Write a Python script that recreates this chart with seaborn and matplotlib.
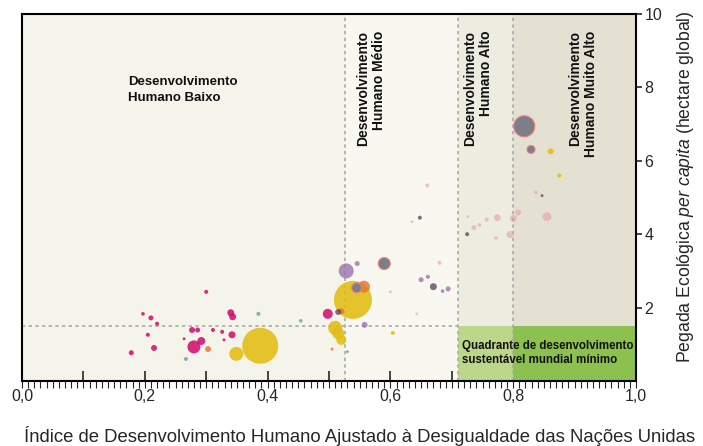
"""
Pegada Ecológica per capita versus IDH ajustado à desigualdade
"""

import numpy as np
import pandas as pd
import seaborn as sns
import matplotlib.pyplot as plt

# valores (IDH-D, pegada em hectare global, população em milhões)
idh = [0.300, 0.197, 0.210, 0.220, 0.205, 0.215, 0.178, 0.277, 0.286, 0.280,
       0.292, 0.264, 0.340, 0.343, 0.326, 0.342, 0.329, 0.311, 0.498,
       0.388, 0.349, 0.539, 0.510, 0.520, 0.515, 0.604, 0.861, 0.875,
       0.303, 0.557, 0.505, 0.520,
       0.528, 0.546, 0.558, 0.650, 0.661, 0.694, 0.685,
       0.545, 0.590, 0.818, 0.829,
       0.736, 0.726, 0.757, 0.774, 0.795, 0.800, 0.808, 0.855, 0.837,
       0.660, 0.635, 0.680, 0.600, 0.643, 0.772, 0.745,
       0.267, 0.385, 0.454, 0.530,
       0.725, 0.847, 0.648, 0.515, 0.670]
pegada = [2.43, 1.83, 1.72, 1.56, 1.26, 0.90, 0.77, 1.39, 1.39, 0.93,
          1.09, 1.15, 1.86, 1.75, 1.34, 1.26, 1.12, 1.39, 1.83,
          0.96, 0.74, 2.21, 1.45, 1.12, 1.30, 1.31, 6.26, 5.60,
          0.87, 2.57, 0.87, 1.90,
          3.00, 3.20, 1.53, 2.76, 2.84, 2.51, 2.45,
          2.54, 3.20, 6.94, 6.31,
          4.18, 4.48, 4.40, 4.45, 3.99, 4.43, 4.59, 4.48, 5.14,
          5.33, 4.34, 3.22, 2.43, 1.83, 3.90, 4.25,
          0.60, 1.83, 1.64, 0.80,
          4.00, 5.05, 4.45, 1.88, 2.57]
populacao = [15, 12, 23, 15, 15, 33, 23, 33, 23, 156,
             59, 8, 45, 45, 15, 45, 8, 15, 92,
             1200, 181, 1336, 181, 92, 133, 15, 33, 15,
             33, 133, 8, 33,
             208, 23, 33, 23, 15, 23, 12,
             92, 133, 408, 59,
             23, 8, 15, 45, 45, 45, 33, 75, 12,
             15, 8, 15, 8, 8, 12, 12,
             15, 15, 12, 8,
             15, 8, 15, 33, 45]
regiao = (["África"] * 19 + ["Ásia-Pacífico"] * 9 + ["Oriente Médio"] * 4
          + ["América Latina"] * 7 + ["América do Norte"] * 4
          + ["Europa"] * 16 + ["Outros"] * 4 + ["Escuros"] * 5)

limites_idh = [0.526, 0.71, 0.80]
biocapacidade = 1.5

cores = {
    "Europa": "#e39aa2",
    "Outros": "#6f9ea3",
    "Ásia-Pacífico": "#e2bd12",
    "África": "#d1096e",
    "América Latina": "#9a73ac",
    "Oriente Médio": "#e7702c",
    "América do Norte": "#7c7e88",
    "Escuros": "#5b3f57",
}
bordas = {
    "Europa": "none",
    "Outros": "none",
    "Ásia-Pacífico": "none",
    "África": "none",
    "América Latina": "none",
    "Oriente Médio": "none",
    "América do Norte": "#f07c84",
    "Escuros": "none",
}
opacidade = {
    "Europa": 0.55,
    "Outros": 0.8,
    "Ásia-Pacífico": 0.88,
    "África": 0.85,
    "América Latina": 0.8,
    "Oriente Médio": 0.8,
    "América do Norte": 1.0,
    "Escuros": 0.75,
}

df = pd.DataFrame({"idh": idh, "pegada": pegada,
                   "populacao": populacao, "regiao": regiao})

sns.set_style("white")
plt.rcParams["font.family"] = ["Liberation Sans", "DejaVu Sans"]
plt.rcParams["mathtext.fontset"] = "custom"
plt.rcParams["mathtext.rm"] = "Liberation Sans"
plt.rcParams["mathtext.it"] = "Liberation Sans:italic"

fig = plt.figure(figsize=(7.03, 4.46), dpi=100)
ax = fig.add_axes([22 / 703, 1 - 381 / 446, 614 / 703, 367 / 446])

# faixas de desenvolvimento humano
ax.axvspan(0, limites_idh[0], color="#f4f4ea", zorder=0, lw=0)
ax.axvspan(limites_idh[0], limites_idh[1], color="#f8f8f1", zorder=0, lw=0)
ax.axvspan(limites_idh[1], limites_idh[2], color="#ecece0", zorder=0, lw=0)
ax.axvspan(limites_idh[2], 1, color="#e5e1d2", zorder=0, lw=0)
ax.axvspan(limites_idh[1], limites_idh[2], ymax=biocapacidade / 10,
           color="#bcd68a", zorder=1, lw=0)
ax.axvspan(limites_idh[2], 1, ymax=biocapacidade / 10,
           color="#8cc04f", zorder=1, lw=0)

for lim in limites_idh:
    ax.axvline(lim, color="#a9aba4", lw=1.2, ls=(0, (2, 2)), zorder=2)
ax.axhline(biocapacidade, xmax=limites_idh[1], color="#a9aba4", lw=1.2,
           ls=(0, (2, 2)), zorder=2)

ordem = ["Europa", "Outros", "Ásia-Pacífico", "África", "América Latina",
         "Oriente Médio", "América do Norte", "Escuros"]
for reg in ordem:
    sub = df[df["regiao"] == reg]
    sns.scatterplot(data=sub, x="idh", y="pegada", size="populacao",
                    sizes=(0, 784), size_norm=(0, 1400), color=cores[reg],
                    edgecolor=bordas[reg], linewidth=0.8, alpha=opacidade[reg],
                    legend=False, ax=ax, zorder=3)

# rótulos das faixas
fonte_negrito = dict(fontweight="bold", color="#111111")
ax.text(0.173, 8.3, "Desenvolvimento\nHumano Baixo", ha="left", va="top",
        fontsize=9.5, linespacing=1.35, **fonte_negrito)
ax.text(0.568, 9.55, "Desenvolvimento\nHumano Médio", rotation=90,
        ha="center", va="top", multialignment="right", fontsize=10,
        **fonte_negrito)
ax.text(0.743, 9.55, "Desenvolvimento\nHumano Alto", rotation=90,
        ha="center", va="top", multialignment="right", fontsize=10,
        **fonte_negrito)
ax.text(0.914, 9.55, "Desenvolvimento\nHumano Muito Alto", rotation=90,
        ha="center", va="top", multialignment="right", fontsize=10,
        **fonte_negrito)
ax.text(0.717, 0.77, "Quadrante de desenvolvimento\nsustentável mundial mínimo",
        ha="left", va="center", zorder=4, fontsize=8.3, **fonte_negrito)

ax.set_xlim(0, 1)
ax.set_ylim(0, 10)

xt = np.round(np.arange(0, 1.01, 0.1), 1)
ax.set_xticks(xt)
ax.set_xticklabels([f"{v:.1f}".replace(".", ",") if i % 2 == 0 else ""
                    for i, v in enumerate(xt)])
ax.set_xticks(np.arange(0, 1.001, 0.01), minor=True)
ax.xaxis.remove_overlapping_locs = False
ax.tick_params(axis="x", which="major", direction="in", length=7, width=1.2,
               pad=6, labelsize=11.5, bottom=True)
ax.tick_params(axis="x", which="minor", direction="out", length=5, width=0.8,
               bottom=True)

ax.yaxis.tick_right()
ax.yaxis.set_label_position("right")
ax.set_yticks([2, 4, 6, 8, 10])
ax.set_yticklabels(["2", "4", "6", "8", "10"])
ax.tick_params(axis="y", direction="out", length=4, width=1.2, labelsize=11.5,
               right=True, left=False, pad=2)

for s in ax.spines.values():
    s.set_visible(True)
    s.set_color("black")
    s.set_linewidth(1.5)

ax.set_xlabel("Índice de Desenvolvimento Humano Ajustado à Desigualdade das Nações Unidas",
              fontsize=13.3)
ax.xaxis.set_label_coords(0.55, -0.122)
ax.set_ylabel(r"Pegada Ecológica $per\ capita$ (hectare global)",
              fontsize=12.7)
ax.yaxis.set_label_coords(1.063, 0.53)

fig.savefig("out.png", dpi=100)
